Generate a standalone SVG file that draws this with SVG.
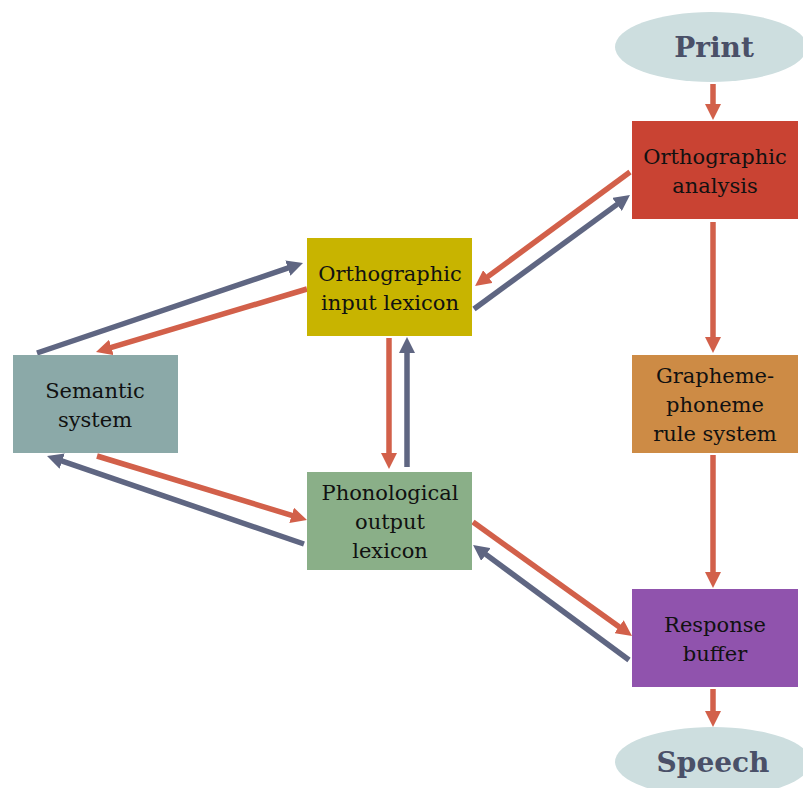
<svg xmlns="http://www.w3.org/2000/svg" width="803" height="788" viewBox="0 0 803 788">
<style>
.lbl{font-family:"DejaVu Serif","Liberation Serif",serif;font-size:21px;fill:#111;text-anchor:middle}
.term{font-family:"DejaVu Serif","Liberation Serif",serif;font-size:28px;font-weight:bold;fill:#4a5068;text-anchor:middle}
.r{stroke:#d2604a;stroke-width:5.5;fill:none;marker-end:url(#ah-r)}
.g{stroke:#5f6682;stroke-width:5.5;fill:none;marker-end:url(#ah-g)}
</style>
<defs>
<marker id="ah-r" markerUnits="userSpaceOnUse" viewBox="0 0 16 16" markerWidth="16" markerHeight="16" refX="6" refY="8" orient="auto"><path d="M0,0 L16,8 L0,16 z" fill="#d2604a"/></marker>
<marker id="ah-g" markerUnits="userSpaceOnUse" viewBox="0 0 16 16" markerWidth="16" markerHeight="16" refX="6" refY="8" orient="auto"><path d="M0,0 L16,8 L0,16 z" fill="#5f6682"/></marker>
</defs>
<rect width="803" height="788" fill="#fff"/>
<g id="connectors">
<line class="r" x1="713" y1="84" x2="713" y2="110"/>
<line class="r" x1="713" y1="222" x2="713" y2="343"/>
<line class="r" x1="713" y1="455" x2="713" y2="578"/>
<line class="r" x1="713" y1="689" x2="713" y2="717"/>
<line class="r" x1="630" y1="172" x2="483.1" y2="280.1"/>
<line class="g" x1="474" y1="309" x2="621.9" y2="200.9"/>
<line class="r" x1="307" y1="289" x2="105.6" y2="349.1"/>
<line class="g" x1="37" y1="353" x2="293.5" y2="266.2"/>
<line class="r" x1="97" y1="456" x2="297.4" y2="517.1"/>
<line class="g" x1="304" y1="544" x2="56.5" y2="459.2"/>
<line class="r" x1="389" y1="338" x2="389" y2="459"/>
<line class="g" x1="407" y1="467" x2="407" y2="347"/>
<line class="r" x1="473" y1="522" x2="623.9" y2="630.2"/>
<line class="g" x1="629" y1="660" x2="481.1" y2="550.9"/>
</g>
<g id="print"><ellipse cx="711" cy="47" rx="96" ry="35" fill="#cddedf"/><text class="term" x="714" y="57">Print</text></g>
<g id="orth-analysis"><rect x="632" y="121" width="166" height="98" fill="#c94333"/><text class="lbl"><tspan x="715" y="164">Orthographic</tspan><tspan x="715" y="193">analysis</tspan></text></g>
<g id="orth-input"><rect x="307" y="238" width="165" height="98" fill="#c8b400"/><text class="lbl"><tspan x="390" y="281">Orthographic</tspan><tspan x="390" y="310">input lexicon</tspan></text></g>
<g id="semantic"><rect x="13" y="355" width="165" height="98" fill="#8ba9a8"/><text class="lbl"><tspan x="95" y="398">Semantic</tspan><tspan x="95" y="427">system</tspan></text></g>
<g id="gp-rule"><rect x="632" y="355" width="166" height="98" fill="#cd8b45"/><text class="lbl"><tspan x="715" y="383">Grapheme-</tspan><tspan x="715" y="412">phoneme</tspan><tspan x="715" y="441">rule system</tspan></text></g>
<g id="phon-output"><rect x="307" y="472" width="165" height="98" fill="#8aaf88"/><text class="lbl"><tspan x="390" y="500">Phonological</tspan><tspan x="390" y="529">output</tspan><tspan x="390" y="558">lexicon</tspan></text></g>
<g id="response"><rect x="632" y="589" width="166" height="98" fill="#9053ad"/><text class="lbl"><tspan x="715" y="632">Response</tspan><tspan x="715" y="661">buffer</tspan></text></g>
<g id="speech"><ellipse cx="713" cy="762" rx="98" ry="35" fill="#cddedf"/><text class="term" x="713" y="772">Speech</text></g>
</svg>
